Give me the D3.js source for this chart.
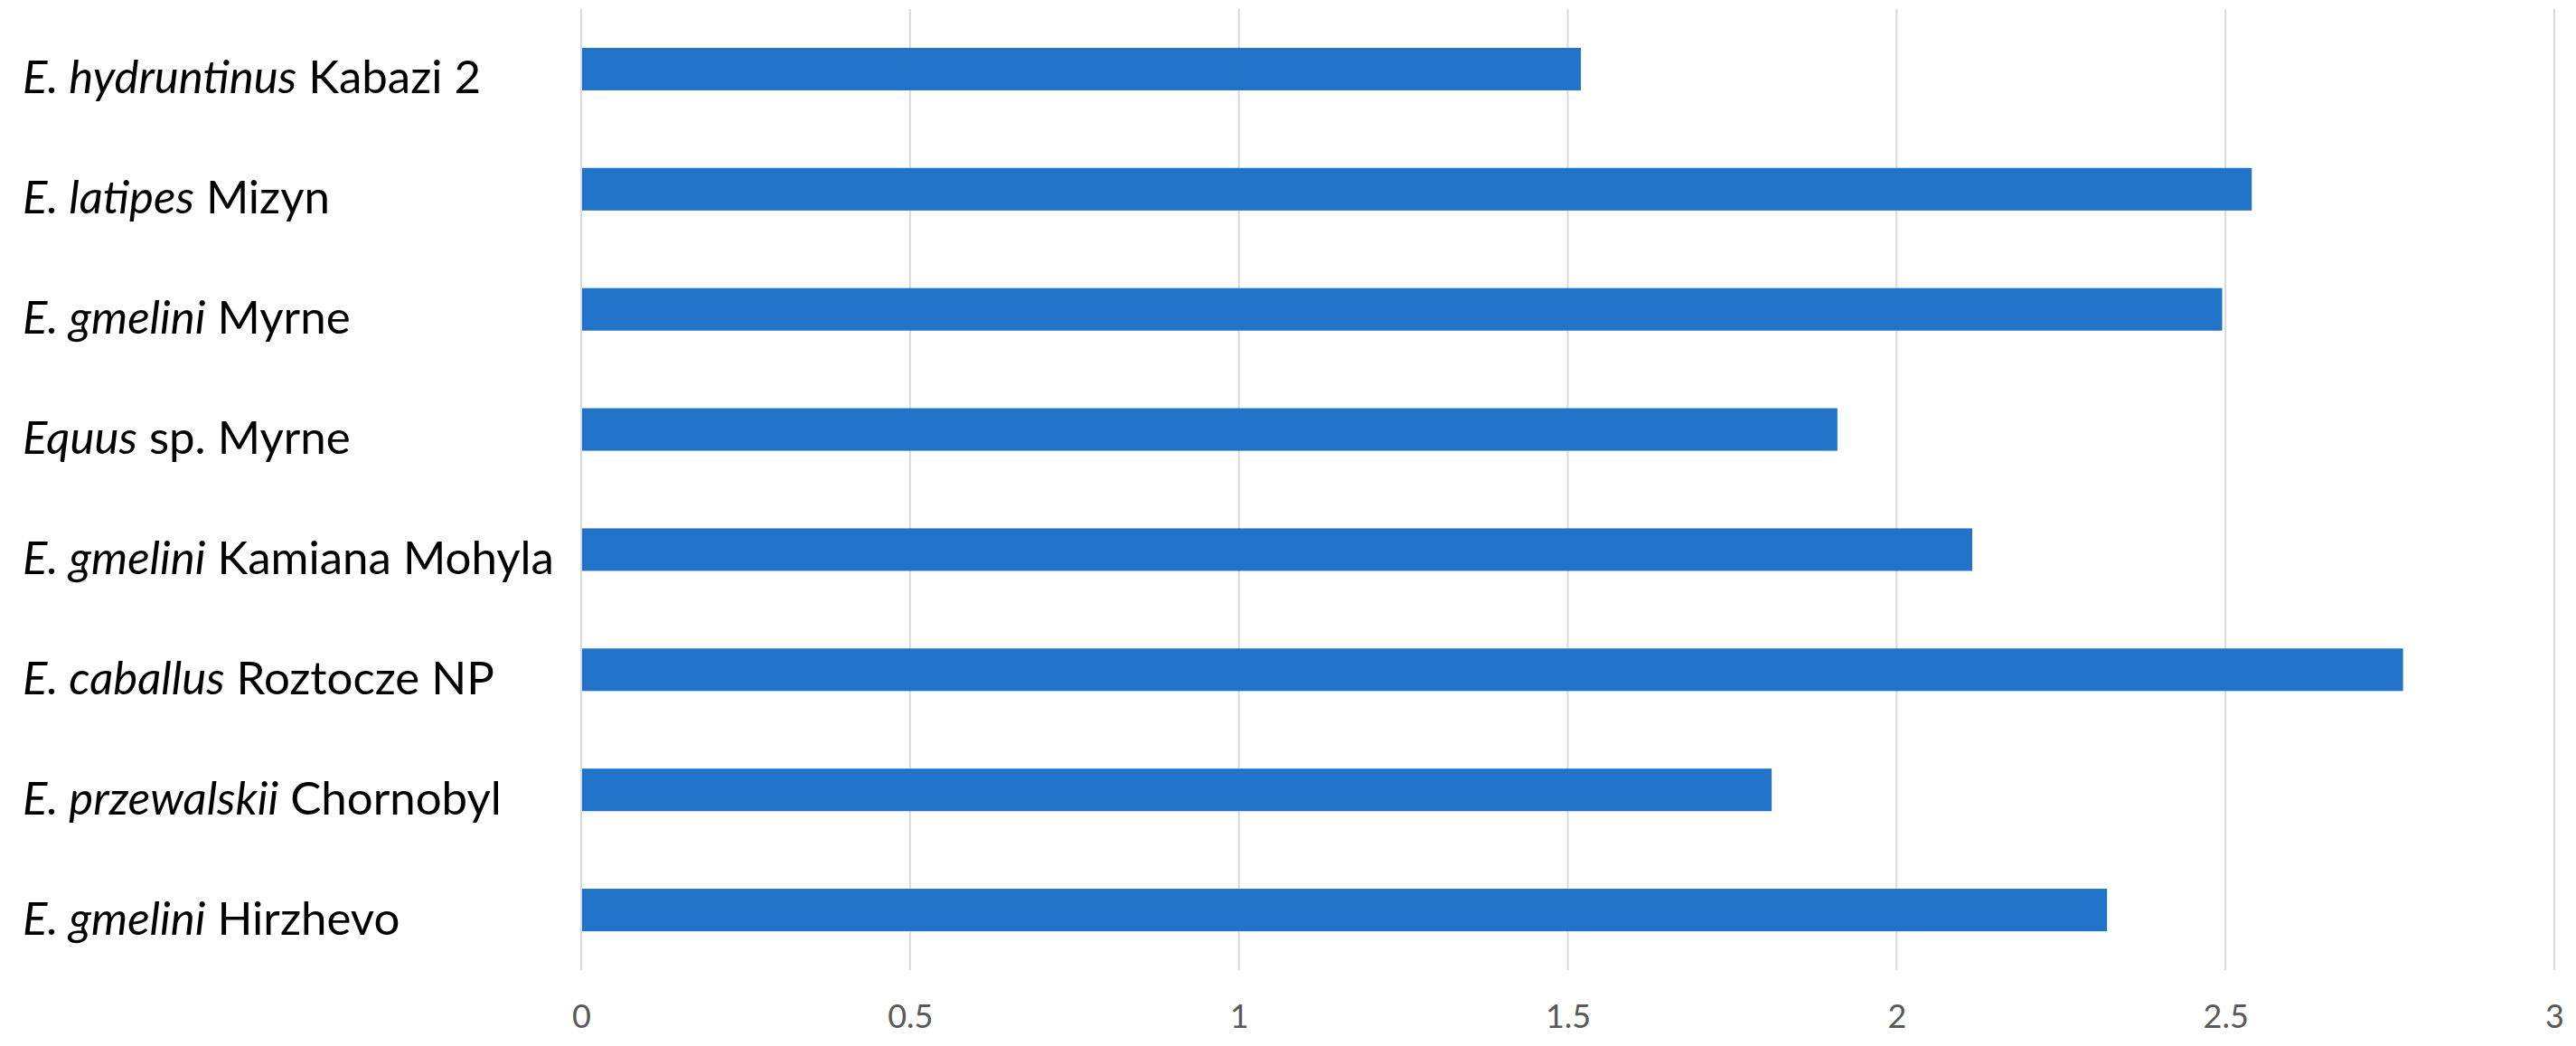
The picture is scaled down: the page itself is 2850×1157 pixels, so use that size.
<!DOCTYPE html>
<html>
<head>
<meta charset="utf-8">
<script src="https://cdn.jsdelivr.net/npm/d3@7/dist/d3.min.js"></script>
<style>
  html, body { margin: 0; padding: 0; background: #ffffff; }
  svg { display: block; }
</style>
</head>
<body>
<svg id="chart" width="2850" height="1157"></svg>
<script>
// Data (top to bottom)
const speciesNames = ["E. hydruntinus", "E. latipes", "E. gmelini", "Equus", "E. gmelini", "E. caballus", "E. przewalskii", "E. gmelini"];
const siteNames = ["Kabazi 2", "Mizyn", "Myrne", "sp. Myrne", "Kamiana Mohyla", "Roztocze NP", "Chornobyl", "Hirzhevo"];
const values = [1.52, 2.54, 2.495, 1.91, 2.115, 2.77, 1.81, 2.32];
const tickValues = [0, 0.5, 1, 1.5, 2, 2.5, 3];
const tickLabels = ["0", "0.5", "1", "1.5", "2", "2.5", "3"];

const svg = d3.select("#chart");
const plot = { left: 643, right: 2826, top: 10, bottom: 1073 };

const categories = siteNames.map((s, i) => i);

const x = d3.scaleLinear().domain([0, 3]).range([plot.left, plot.right]);
const y = d3.scaleBand().domain(categories).range([plot.top, plot.bottom])
  .paddingInner(0.646).paddingOuter(0.323);

// Gridlines
svg.append("g")
  .selectAll("line")
  .data(tickValues)
  .join("line")
  .attr("x1", d => x(d)).attr("x2", d => x(d))
  .attr("y1", plot.top).attr("y2", plot.bottom)
  .attr("stroke", "#d9d9d9")
  .attr("stroke-width", 2);

// Bars
svg.append("g")
  .selectAll("rect")
  .data(values)
  .join("rect")
  .attr("x", x(0) + 1)
  .attr("y", (d, i) => y(i))
  .attr("width", d => x(d) - x(0) - 1)
  .attr("height", y.bandwidth())
  .attr("fill", "#2073c8");

// X axis tick labels
const xAxis = d3.axisBottom(x)
  .tickValues(tickValues)
  .tickFormat((d, i) => tickLabels[i])
  .tickSize(0)
  .tickPadding(0);
const gx = svg.append("g")
  .attr("transform", `translate(0, ${plot.bottom})`)
  .call(xAxis);
gx.select(".domain").remove();
gx.selectAll("text")
  .attr("y", 64)
  .attr("dy", 0)
  .attr("fill", "#595959")
  .style("font-family", "Lato, 'Open Sans', sans-serif")
  .style("font-size", "36px");

// Category labels
const labels = svg.append("g")
  .selectAll("text")
  .data(categories)
  .join("text")
  .attr("x", 25)
  .attr("y", i => y(i) + y.bandwidth() / 2 + 27)
  .attr("fill", "#000000")
  .style("font-family", "Lato, 'Open Sans', sans-serif")
  .style("font-size", "51px");
labels.append("tspan")
  .style("font-style", "italic")
  .text(i => speciesNames[i]);
labels.append("tspan")
  .text(i => " " + siteNames[i]);
</script>
</body>
</html>
